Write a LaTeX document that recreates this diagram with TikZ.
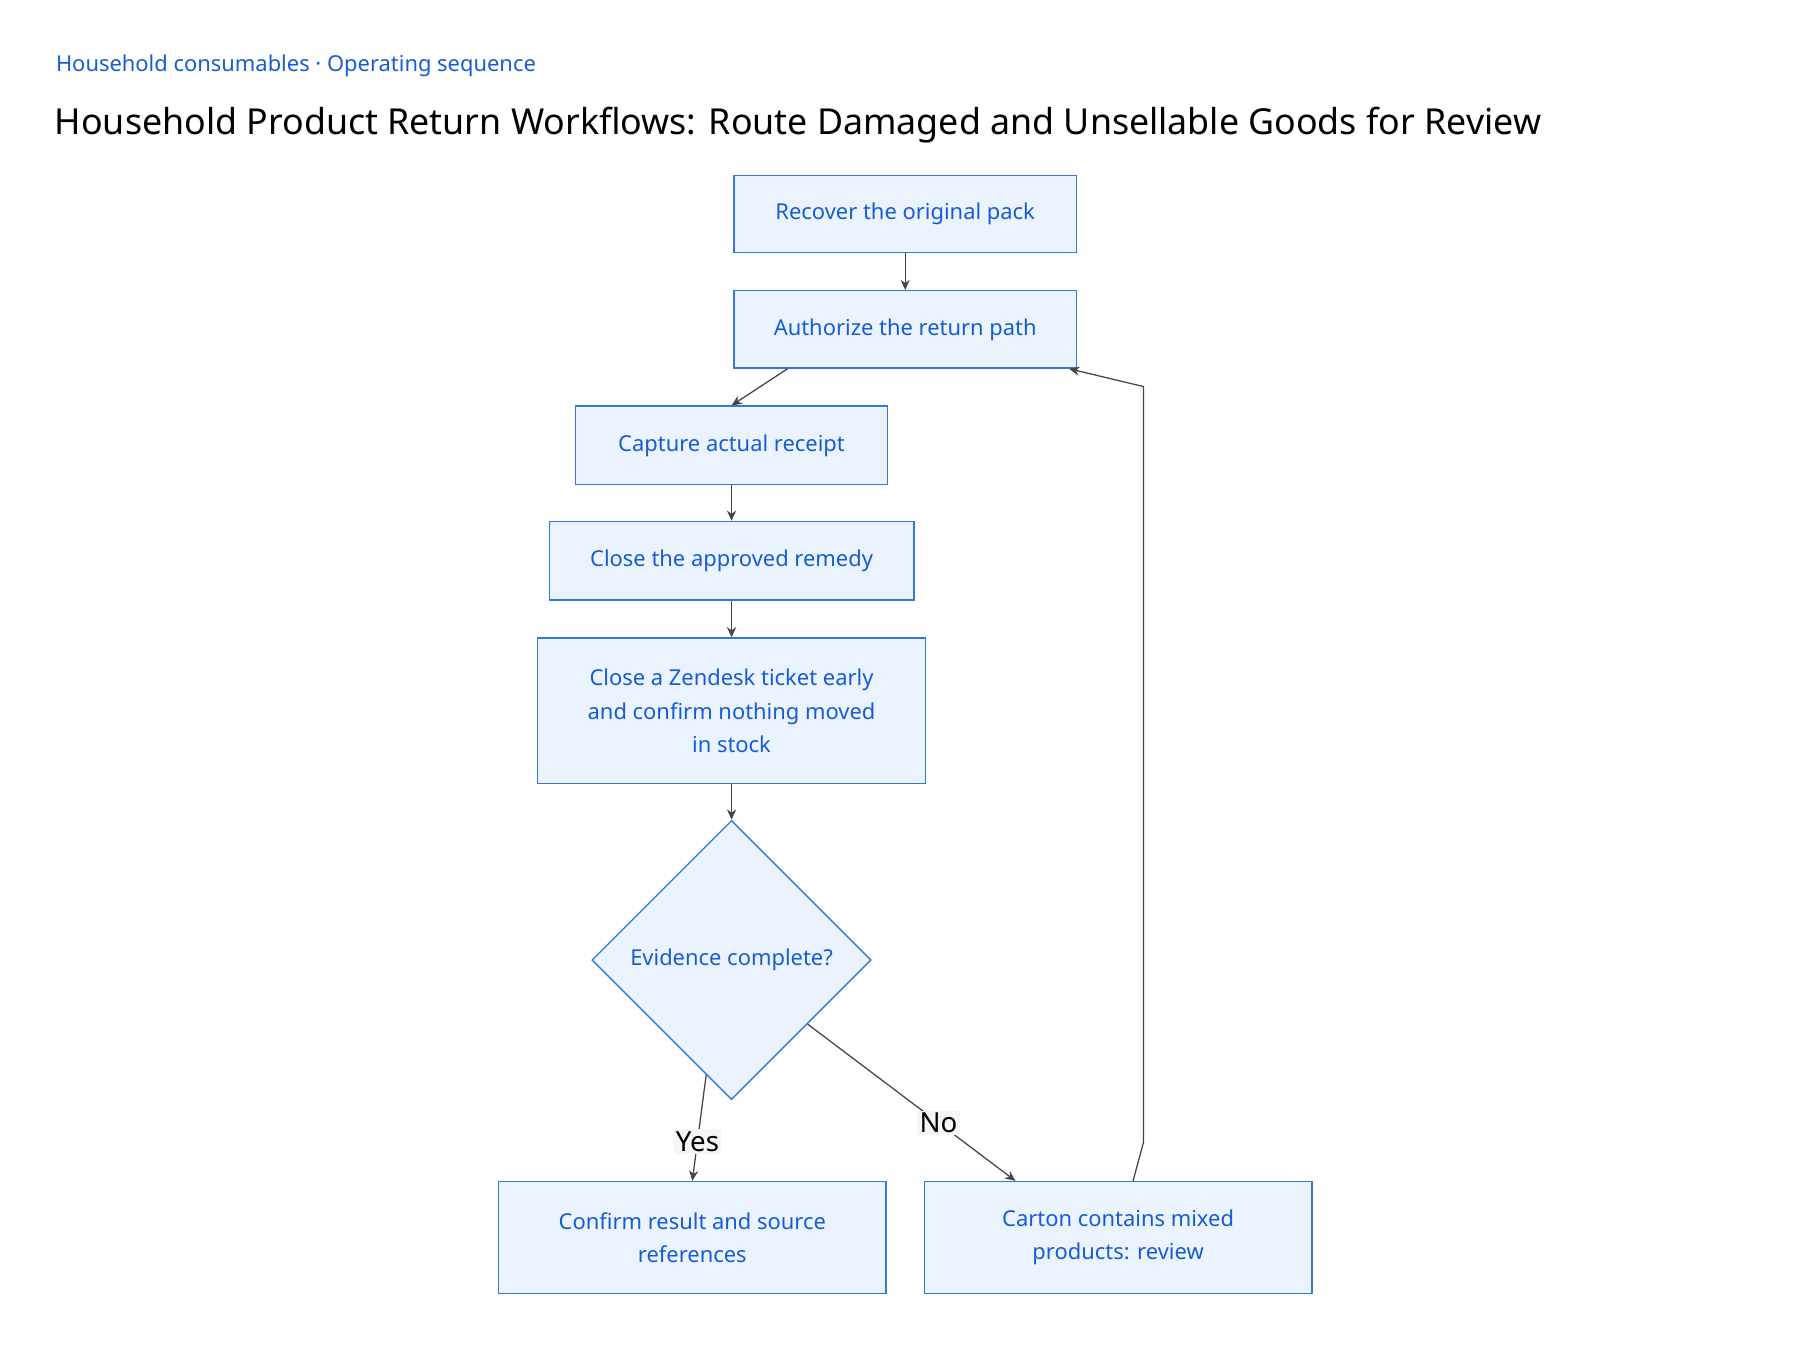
\documentclass[tikz,border=0pt]{standalone}
\usepackage{fontspec}
\setmainfont{Noto Sans}
\usetikzlibrary{shapes.geometric,arrows.meta}
\definecolor{stepfill}{RGB}{235,243,254}
\definecolor{stepline}{RGB}{52,120,220}
\definecolor{steptext}{RGB}{22,92,214}
\definecolor{edgegray}{RGB}{70,70,70}

\begin{document}
\begin{tikzpicture}[x=1pt,y=-1pt,
    stepbox/.style={draw=stepline,fill=stepfill,text=steptext,line width=1.2pt,
        font=\fontsize{19}{29}\selectfont,align=center,inner sep=0pt},
    decision/.style={diamond,draw=stepline,fill=stepfill,text=steptext,line width=1.2pt,
        font=\fontsize{19}{29}\selectfont,minimum width=242pt,minimum height=242pt,
        aspect=1,inner sep=0pt},
    flow/.style={draw=edgegray,line width=1.1pt,-{Stealth[length=9pt,width=8pt]}},
    edgelabel/.style={fill=gray!8,text=black,font=\fontsize{24}{28}\selectfont,inner sep=2pt}]
    \useasboundingbox (0,0) rectangle (1560,1170);
    % heading
    \node[anchor=west,text=steptext,font=\fontsize{19}{22}\selectfont] (sub) at (45,57)
        {Household consumables · Operating sequence};
    \node[anchor=west,font=\fontsize{31}{36}\selectfont] (title) at (44,108)
        {Household Product Return Workflows: Route Damaged and Unsellable Goods for Review};

    % steps
    \node[stepbox,minimum width=297pt,minimum height=67pt] (recover) at (784.5,185.5) {Recover the original pack};
    \node[stepbox,minimum width=297pt,minimum height=67pt] (authorize) at (784.5,285.5) {Authorize the return path};
    \node[stepbox,minimum width=270pt,minimum height=68pt] (capture) at (634,386) {Capture actual receipt};
    \node[stepbox,minimum width=316pt,minimum height=68pt] (remedy) at (634,486) {Close the approved remedy};
    \node[stepbox,minimum width=336pt,minimum height=126pt] (zendesk) at (634,616)
        {Close a Zendesk ticket early\\and confirm nothing moved\\in stock};
    \node[decision] (evidence) at (634,832) {Evidence complete?};
    \node[stepbox,minimum width=336pt,minimum height=97pt] (confirm) at (600,1072.5)
        {Confirm result and source\\references};
    \node[stepbox,minimum width=336pt,minimum height=97pt] (carton) at (969,1072.5)
        {Carton contains mixed\\products: review};

    % connectors
    \draw[flow] (recover) -- (authorize);
    \draw[flow] (authorize.south) ++(-102,0) coordinate (a1) -- (capture.north);
    \draw[flow] (capture) -- (remedy);
    \draw[flow] (remedy) -- (zendesk);
    \draw[flow] (zendesk) -- (evidence.north);
    \draw[flow] (evidence.south) ++(-22,-22) coordinate (e1) -- (confirm.north)
        node[edgelabel,pos=0.63] {Yes};
    \draw[flow] (evidence.south) ++(66,-66) coordinate (e2) -- ([xshift=-89pt]carton.north)
        node[edgelabel,pos=0.63] {No};
    \draw[flow] ([xshift=13pt]carton.north) -- (991,990) -- (991,335) -- ([xshift=-7pt]authorize.south east);
\end{tikzpicture}
\end{document}
